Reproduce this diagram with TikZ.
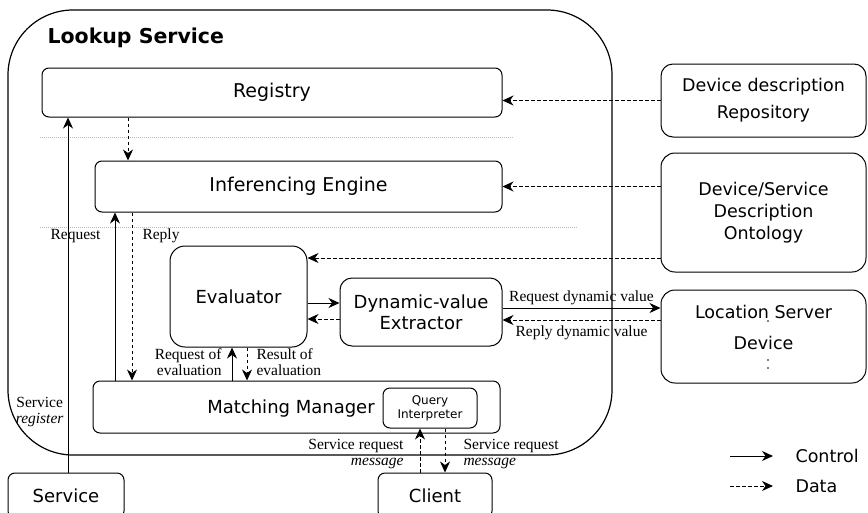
\documentclass[tikz,border=0pt]{standalone}
\usepackage{fontspec}
\setmainfont{Liberation Serif}
\newfontfamily\boxfont{DejaVu Sans}
\usetikzlibrary{arrows.meta}

\tikzset{
  box/.style={draw, line width=1pt, rounded corners=7pt, inner sep=0pt,
    font=\boxfont\fontsize{19}{23}\selectfont},
  midtext/.style={font=\boxfont\fontsize{18}{21}\selectfont},
  sidetext/.style={font=\boxfont\fontsize{17.5}{23}\selectfont},
  ctrl/.style={-{Stealth[length=11pt,width=10pt,inset=3.5pt]}, line width=1pt},
  data/.style={ctrl, dash pattern=on 3.5pt off 2.5pt},
  lbl/.style={font=\fontsize{15.5}{16.5}\selectfont, inner sep=1pt},
  sep/.style={gray!55, line width=0.6pt, dash pattern=on 1pt off 1pt}
}

\begin{document}
\begin{tikzpicture}[x=1pt,y=-1pt]
  \useasboundingbox (0,0) rectangle (868,512);
  \clip (0,0) rectangle (868,512);

  % lookup service frame
  \node[draw, line width=1.2pt, rounded corners=65pt, minimum width=604pt,
    minimum height=445pt] (lookup) at (310,232.5) {};
  \node[anchor=west, font=\boxfont\bfseries\fontsize{20.5}{24}\selectfont]
    (title) at (44,38) {Lookup Service};

  % layer separators
  \draw[sep] (40,137) -- (513,137);
  \draw[sep] (40,227) -- (577,227);

  % inner components
  \node[box, minimum width=460pt, minimum height=49pt] (reg) at (272,92.5) {Registry};
  \node[box, minimum width=407pt, minimum height=51pt] (inf) at (298.5,186.5) {Inferencing Engine};
  \node[box, midtext, rounded corners=15pt, minimum width=137pt,
    minimum height=101pt] (eval) at (238.5,296.5) {Evaluator};
  \node[box, midtext, rounded corners=12pt, align=center, minimum width=162pt,
    minimum height=68pt] (dve) at (421,312) {Dynamic-value\\Extractor};
  \node[box, minimum width=407pt, minimum height=52pt] (mm) at (296.5,407) {};
  \node[midtext] (mmtext) at (291,409) {Matching Manager};
  \node[box, align=center, minimum width=94pt, minimum height=40pt,
    font=\boxfont\fontsize{12}{14}\selectfont] (qi) at (430,408) {Query\\Interpreter};

  % outside parties
  \node[box, sidetext, rounded corners=12pt, align=center, minimum width=205pt,
    minimum height=73pt, font=\boxfont\fontsize{17.5}{27}\selectfont] (ddr) at (763.5,100.5)
    {Device description\\Repository};
  \node[box, sidetext, rounded corners=14pt, align=center, minimum width=205pt,
    minimum height=119pt, font=\boxfont\fontsize{17.5}{22}\selectfont] (ont) at (763.5,212.5)
    {Device/Service\\Description\\Ontology};
  \node[box, rounded corners=14pt, minimum width=205pt, minimum height=93pt] (loc) at (763.5,336.5) {};
  \node[sidetext] (locsrv) at (763.5,312) {Location Server};
  \node[sidetext] (locdev) at (763.5,343) {Device};
  \fill (768,321) circle (0.8) (768,360) circle (0.8) (768,368) circle (0.8);
  \node[box, midtext, minimum width=116pt, minimum height=45pt] (svc) at (66,495.5) {Service};
  \node[box, midtext, minimum width=114pt, minimum height=45pt] (cli) at (435,495.5) {Client};

  % feeds into the lookup service
  \draw[data] (ddr.west) -- (ddr.west -| reg.east);
  \draw[data] (ont.west |- inf.east) -- (inf.east);
  \draw[data] (ont.west |- 0,258) -- (eval.east |- 0,258);

  % evaluation and dynamic values
  \draw[ctrl] (eval.east |- 0,303) -- (dve.west |- 0,303);
  \draw[data] (dve.west |- 0,319) -- (eval.east |- 0,319);
  \draw[ctrl] (dve.east |- 0,308) -- node[lbl, above=2pt] (reqdyn) {Request dynamic value} (loc.west |- 0,308);
  \draw[data] (loc.west |- 0,320) -- node[lbl, below=4pt] (repdyn) {Reply dynamic value} (dve.east |- 0,320);

  % vertical flows
  \draw[data] (reg.south -| 128,0) -- (inf.north -| 128,0);
  \draw[ctrl] (svc.north -| 68,0) -- node[lbl, left=3pt, pos=0.17, align=center] (svcreg)
    {Service\\\textit{register}} (reg.south -| 68,0);
  \draw[ctrl] (mm.north -| 115,0) -- node[lbl, left=13pt, pos=0.86] (req) {Request} (inf.south -| 115,0);
  \draw[data] (inf.south -| 132,0) -- node[lbl, right=9pt, pos=0.14] (rep) {Reply} (mm.north -| 132,0);
  \draw[ctrl] (mm.north -| 232,0) -- node[lbl, left=9pt, pos=0.56, align=right] (reqev)
    {Request of\\evaluation} (eval.south -| 232,0);
  \draw[data] (eval.south -| 247,0) -- node[lbl, right=8pt, pos=0.44, align=left] (resev)
    {Result of\\evaluation} (mm.north -| 247,0);
  \draw[data] (cli.north -| 420,0) -- node[lbl, left=15pt, pos=0.42, align=right] (sreqin)
    {Service request\\\textit{message}} (qi.south -| 420,0);
  \draw[data] (qi.south -| 445,0) -- node[lbl, right=17pt, pos=0.58, align=left] (sreqout)
    {Service request\\\textit{message}} (cli.north -| 445,0);

  % legend
  \coordinate (c0) at (730,456);
  \coordinate (c1) at (773,456);
  \coordinate (d0) at (730,486);
  \coordinate (d1) at (773,486);
  \draw[ctrl] (c0) -- (c1);
  \draw[data] (d0) -- (d1);
  \node[sidetext, anchor=west] (ctrltxt) at (792,456) {Control};
  \node[sidetext, anchor=west] (datatxt) at (792,486) {Data};
\end{tikzpicture}
\end{document}
